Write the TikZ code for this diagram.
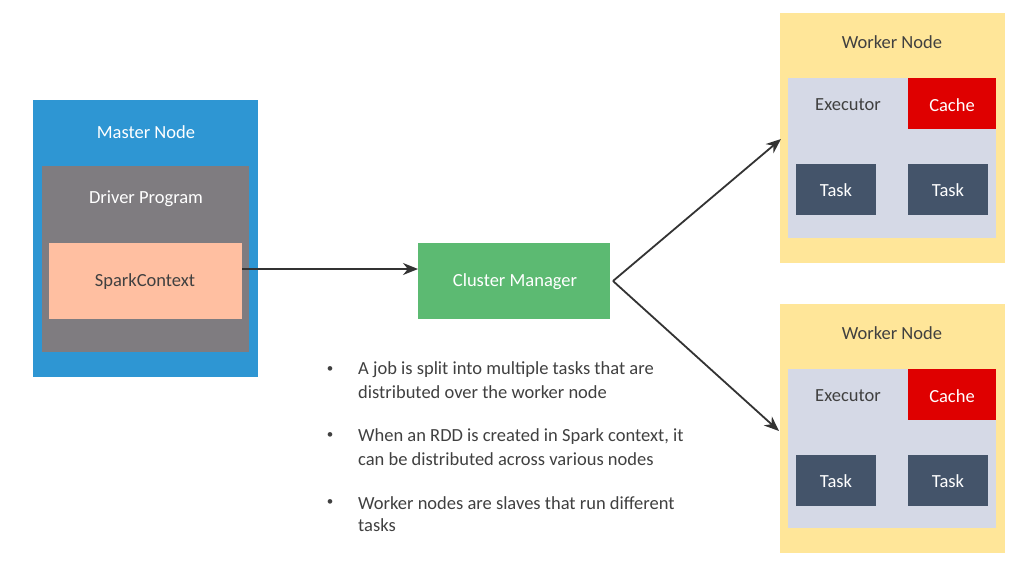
\documentclass[tikz,border=0pt]{standalone}
\usepackage{fontspec}
\setmainfont{Carlito}
\usetikzlibrary{arrows.meta}
\definecolor{mblue}{HTML}{2E96D3}
\definecolor{dgray}{HTML}{7F7C80}
\definecolor{peach}{HTML}{FFBFA1}
\definecolor{cgreen}{HTML}{5CBA72}
\definecolor{wyellow}{HTML}{FFE699}
\definecolor{exgray}{HTML}{D5D9E6}
\definecolor{cred}{HTML}{DF0000}
\definecolor{tnavy}{HTML}{44546A}
\definecolor{txt}{HTML}{404040}
\definecolor{arr}{HTML}{333333}
\begin{document}
\begin{tikzpicture}[x=1pt,y=-1pt,
  box/.style={draw=none,anchor=north west,inner sep=0pt,outer sep=0pt},
  lbl/.style={inner sep=0pt,font=\fontsize{18.5}{22}\selectfont},
  conn/.style={draw=arr,line width=1.8pt,-{Stealth[length=15pt,width=12pt]}}]
\useasboundingbox (0,0) rectangle (1020,563);
\fill[white] (0,0) rectangle (1020,563);
% master
\node[box,fill=mblue,minimum width=225pt,minimum height=277pt] (master) at (33,100) {};
\node[box,fill=dgray,minimum width=207pt,minimum height=186pt] (driver) at (42,166) {};
\node[box,fill=peach,minimum width=193pt,minimum height=76pt] (spark) at (49,243) {};
\node[lbl,text=white] (mlbl) at (146,132) {Master Node};
\node[lbl,text=white] (dlbl) at (146,199) {Driver Program};
\node[lbl,text=txt] (slbl) at (145,282) {SparkContext};
% cluster
\node[box,fill=cgreen,minimum width=192pt,minimum height=76pt] (cluster) at (418,243) {};
\node[lbl,text=white] (clbl) at (515,282) {Cluster Manager};
% worker 1
\node[box,fill=wyellow,minimum width=225pt,minimum height=250pt] (w1) at (780,13) {};
\node[box,fill=exgray,minimum width=208pt,minimum height=160pt] (e1) at (788,78) {};
\node[box,fill=cred,minimum width=88pt,minimum height=51pt] (c1) at (908,78) {};
\node[box,fill=tnavy,minimum width=80pt,minimum height=51pt] (t1a) at (796,164) {};
\node[box,fill=tnavy,minimum width=80pt,minimum height=51pt] (t1b) at (908,164) {};
\node[lbl,text=txt] (w1l) at (892,42) {Worker Node};
\node[lbl,text=txt] (e1l) at (848,105) {Executor};
\node[lbl,text=white] (c1l) at (952,105) {Cache};
\node[lbl,text=white] (t1al) at (836,190) {Task};
\node[lbl,text=white] (t1bl) at (948,190) {Task};
% worker 2
\node[box,fill=wyellow,minimum width=225pt,minimum height=249pt] (w2) at (780,304) {};
\node[box,fill=exgray,minimum width=208pt,minimum height=159pt] (e2) at (788,369) {};
\node[box,fill=cred,minimum width=88pt,minimum height=51pt] (c2) at (908,369) {};
\node[box,fill=tnavy,minimum width=80pt,minimum height=51pt] (t2a) at (796,455) {};
\node[box,fill=tnavy,minimum width=80pt,minimum height=51pt] (t2b) at (908,455) {};
\node[lbl,text=txt] (w2l) at (892,333) {Worker Node};
\node[lbl,text=txt] (e2l) at (848,396) {Executor};
\node[lbl,text=white] (c2l) at (952,396) {Cache};
\node[lbl,text=white] (t2al) at (836,481) {Task};
\node[lbl,text=white] (t2bl) at (948,481) {Task};
% connectors
\coordinate (sp) at (242,269);
\coordinate (cin) at (418,269);
\coordinate (cout) at (613,281);
\coordinate (w1in) at (781,139);
\coordinate (w2in) at (779,431);
\draw[conn] (sp) -- (cin);
\draw[conn] (cout) -- (w1in);
\draw[conn] (cout) -- (w2in);
% bullets
\foreach \y/\n in {370/b1,436/b2,503/b3}{
  \node[inner sep=0pt,text=txt,font=\fontsize{13}{13}\selectfont] (\n) at (330,\y) {\textbullet};
}
\node[lbl,text=txt,anchor=west] (l1) at (358,370) {A job is split into multiple tasks that are};
\node[lbl,text=txt,anchor=west] (l2) at (358,392) {distributed over the worker node};
\node[lbl,text=txt,anchor=west] (l3) at (358,437) {When an RDD is created in Spark context, it};
\node[lbl,text=txt,anchor=west] (l4) at (358,459) {can be distributed across various nodes};
\node[lbl,text=txt,anchor=west] (l5) at (358,503) {Worker nodes are slaves that run different};
\node[lbl,text=txt,anchor=west] (l6) at (358,525) {tasks};
\end{tikzpicture}
\end{document}
